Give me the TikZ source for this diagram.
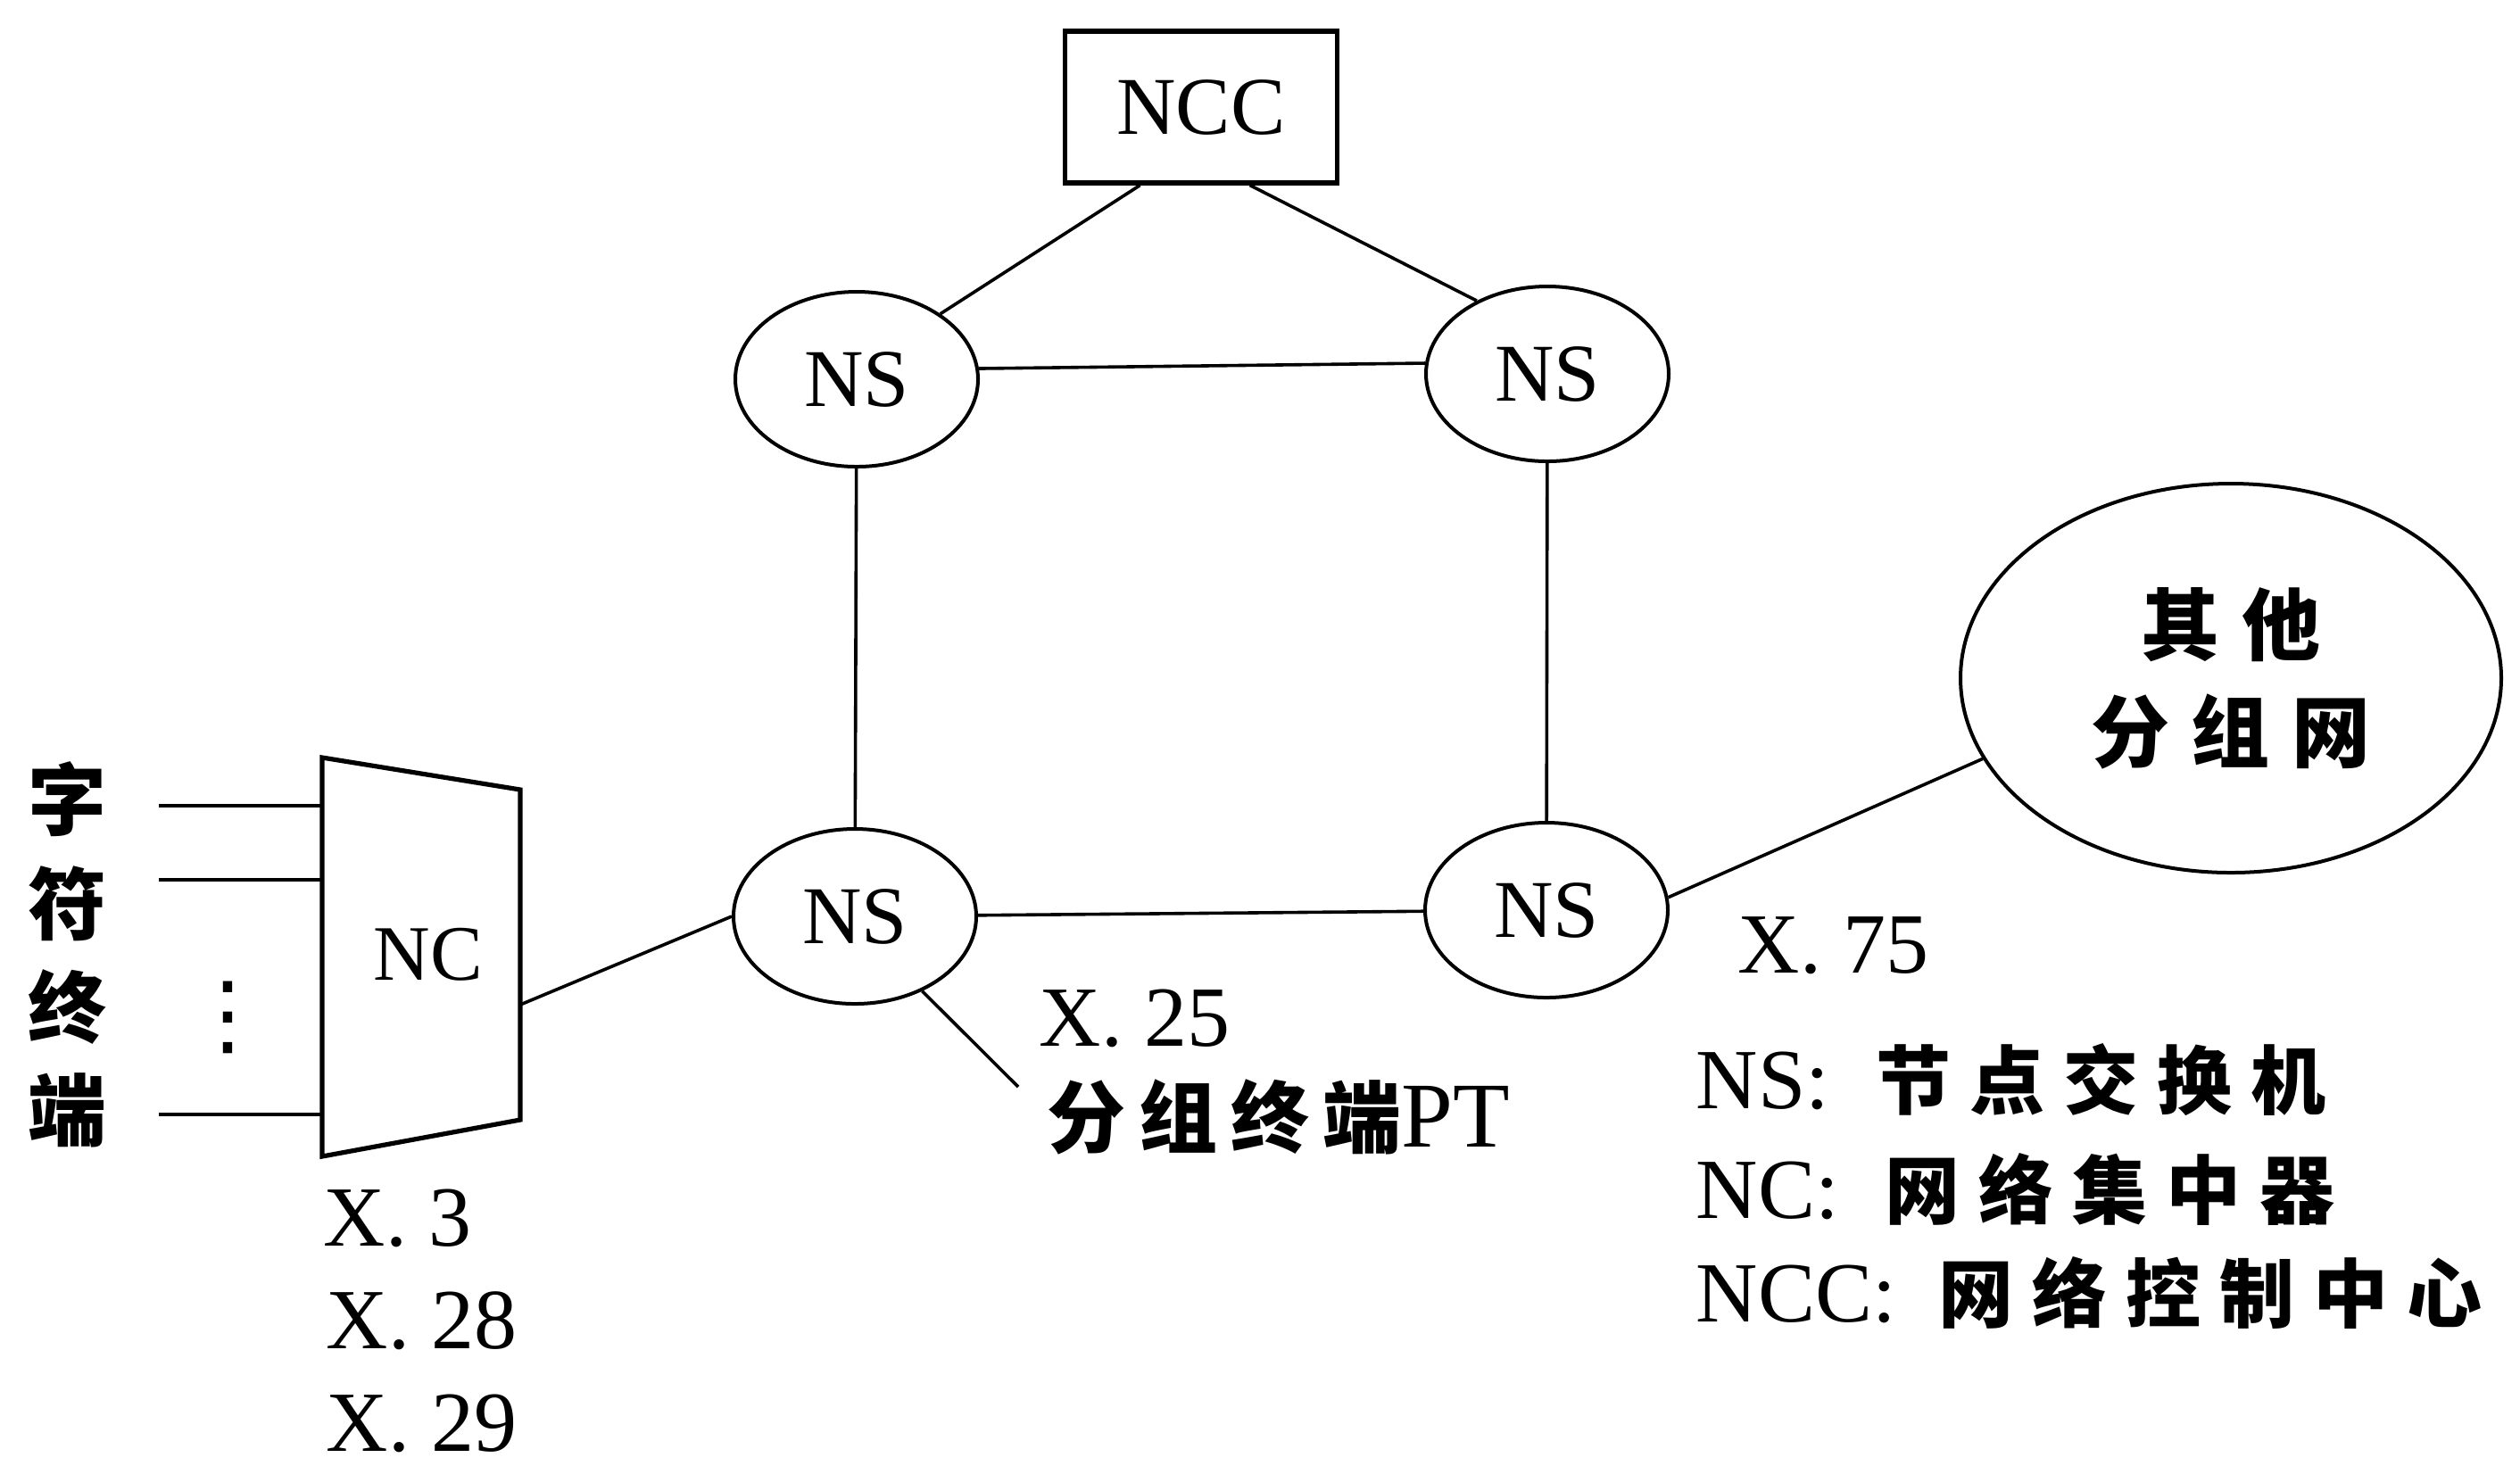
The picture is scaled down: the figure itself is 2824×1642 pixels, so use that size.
\documentclass[tikz,border=0pt]{standalone}
\usepackage{fontspec}
\setmainfont{Liberation Serif}
\newfontfamily\cjk{Noto Sans CJK SC}
\newfontfamily\symfont{DejaVu Sans}
\usetikzlibrary{shapes.geometric,calc}
\newcommand\cjkls[1]{\cjk\bfseries\addfontfeature{LetterSpace=#1}}
\begin{document}
\begin{tikzpicture}[x=0.25pt,y=-0.25pt,
  conn/.style={line width=0.9pt},
  nsnode/.style={ellipse, draw, line width=1pt, minimum width=68pt, minimum height=49pt, inner sep=0pt, font=\fontsize{23}{26}\selectfont},
  lbl/.style={font=\fontsize{24}{28}\selectfont, inner sep=0pt},
  cjkchar/.style={font=\fontsize{22}{24}\selectfont\cjk\bfseries, inner sep=0pt},
]
\useasboundingbox (0,0) rectangle (2824,1642);

% NCC
\node[draw, line width=1.3pt, minimum width=76.25pt, minimum height=42.5pt, inner sep=0pt, font=\fontsize{23}{26}\selectfont] (ncc) at (1346,120) {NCC};

% NS nodes
\node[nsnode] (tl) at (960,425) {NS};
\node[nsnode] (tr) at (1734,419) {NS};
\node[nsnode] (bl) at (958,1027) {NS};
\node[nsnode] (br) at (1733,1020) {NS};

% other packet network
\node[ellipse, draw, line width=1pt, minimum width=151.5pt, minimum height=109pt, inner sep=0pt, align=center,
      font=\fontsize{22}{30}\selectfont\cjkls{28}] (other) at (2500,760) {其他\\分组网};

% NC trapezoid
\coordinate (ncTL) at (361,849);
\coordinate (ncTR) at (583,885);
\coordinate (ncBR) at (583,1255);
\coordinate (ncBL) at (361,1296);
\draw[line width=1.3pt] (ncTL) -- (ncTR) -- (ncBR) -- (ncBL) -- cycle;
\node[font=\fontsize{22}{26}\selectfont, inner sep=0pt] (nc) at (480,1070) {NC};
\coordinate (ncr) at (583,1126);

% input lines
\coordinate (a1) at (178,903);  \coordinate (b1) at (361,903);
\coordinate (a2) at (178,986);  \coordinate (b2) at (361,986);
\coordinate (a3) at (178,1249); \coordinate (b3) at (361,1249);
\draw[conn] (a1) -- (b1);
\draw[conn] (a2) -- (b2);
\draw[conn] (a3) -- (b3);
\node[font=\fontsize{25}{25}\selectfont\symfont, inner sep=0pt] (dots) at (255,1140) {⋮};

% left labels
\node[cjkchar] (c1) at (76,896) {字};
\node[cjkchar] (c2) at (76,1013) {符};
\node[cjkchar] (c3) at (76,1128) {终};
\node[cjkchar] (c4) at (76,1244) {端};

% X labels under NC
\node[lbl, anchor=base west] (x3) at (362,1396) {X. 3};
\node[lbl, anchor=base west] (x28) at (365,1511) {X. 28};
\node[lbl, anchor=base west] (x29) at (365,1626) {X. 29};

% connectors
\draw[conn] (ncc.232) -- (tl.38);
\draw[conn] (ncc.302) -- (tr.134);
\draw[conn] (tl.5) -- (tr.175);
\draw[conn] (tl) -- (bl);
\draw[conn] (tr) -- (br);
\draw[conn] (bl) -- (br);
\draw[conn] (ncr) -- (bl.west);
\coordinate (pt) at (1141,1218);
\draw[conn] (bl.-48) -- (pt);
\draw[conn] (br.6) -- (other.198);

% X.25 and PT label
\node[lbl, anchor=base west] (x25) at (1164,1172) {X. 25};
\node[lbl, anchor=base west] (ptl) at (1173,1285) {{\fontsize{22}{24}\selectfont\cjkls{17}分组终端}{\fontsize{26}{28}\selectfont PT}};

% X.75
\node[lbl, anchor=base west] (x75) at (1947,1090) {X. 75};

% legend
\node[lbl, anchor=base west] (lg1) at (1900,1242) {NS:\hspace{13pt}{\fontsize{21}{24}\selectfont\cjkls{25}节点交换机}};
\node[lbl, anchor=base west] (lg2) at (1900,1365) {NC:\hspace{13pt}{\fontsize{21}{24}\selectfont\cjkls{25}网络集中器}};
\node[lbl, anchor=base west] (lg3) at (1900,1481) {NCC:\hspace{12pt}{\fontsize{21}{24}\selectfont\cjkls{25}网络控制中心}};
\end{tikzpicture}
\end{document}
